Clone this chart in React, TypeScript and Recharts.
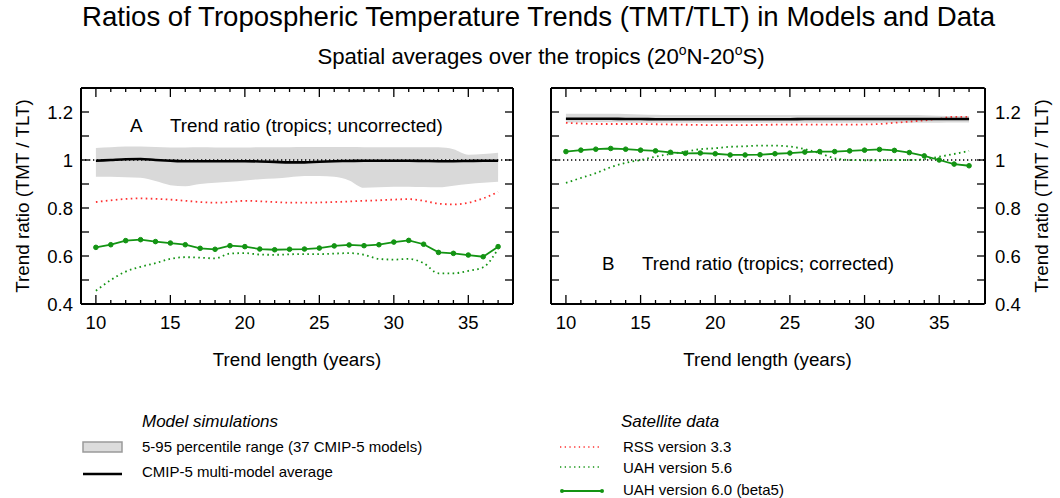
import React from "react";
import { Area, ComposedChart, Line, ReferenceLine, XAxis, YAxis } from "recharts";

// trend lengths (years)
const years = [10, 11, 12, 13, 14, 15, 16, 17, 18, 19, 20, 21, 22, 23, 24, 25, 26, 27, 28, 29, 30, 31, 32, 33, 34, 35, 36, 37];

// panel A: uncorrected
const lowA = [0.93, 0.93, 0.928, 0.926, 0.912, 0.895, 0.891, 0.9, 0.905, 0.909, 0.915, 0.92, 0.923, 0.928, 0.933, 0.933, 0.93, 0.915, 0.884, 0.886, 0.889, 0.889, 0.887, 0.886, 0.893, 0.9, 0.905, 0.909];
const highA = [1.05, 1.053, 1.056, 1.056, 1.054, 1.052, 1.052, 1.053, 1.052, 1.052, 1.052, 1.053, 1.053, 1.053, 1.054, 1.054, 1.054, 1.054, 1.053, 1.053, 1.053, 1.053, 1.053, 1.053, 1.045, 1.022, 1.025, 1.03];
const meanA = [0.997, 1.0, 1.003, 1.004, 1.0, 0.997, 0.995, 0.995, 0.995, 0.995, 0.995, 0.994, 0.992, 0.99, 0.99, 0.993, 0.995, 0.996, 0.997, 0.997, 0.997, 0.997, 0.996, 0.995, 0.995, 0.996, 0.997, 0.997];
const rssA = [0.825, 0.832, 0.838, 0.84, 0.838, 0.835, 0.83, 0.825, 0.822, 0.825, 0.83, 0.828, 0.825, 0.822, 0.822, 0.823, 0.825, 0.827, 0.83, 0.832, 0.835, 0.837, 0.83, 0.818, 0.815, 0.822, 0.84, 0.867];
const uah56A = [0.455, 0.5, 0.535, 0.555, 0.57, 0.588, 0.595, 0.593, 0.59, 0.61, 0.612, 0.606, 0.605, 0.607, 0.608, 0.608, 0.61, 0.612, 0.605, 0.588, 0.585, 0.588, 0.57, 0.528, 0.528, 0.538, 0.553, 0.63];
const uah60A = [0.636, 0.647, 0.664, 0.668, 0.66, 0.654, 0.647, 0.632, 0.628, 0.643, 0.639, 0.629, 0.626, 0.628, 0.629, 0.633, 0.642, 0.646, 0.643, 0.647, 0.658, 0.665, 0.649, 0.615, 0.611, 0.604, 0.597, 0.639];

// panel B: corrected
const lowB = [1.156, 1.156, 1.157, 1.157, 1.156, 1.155, 1.155, 1.155, 1.155, 1.155, 1.155, 1.155, 1.155, 1.155, 1.155, 1.155, 1.155, 1.155, 1.155, 1.155, 1.155, 1.155, 1.155, 1.155, 1.155, 1.155, 1.156, 1.156];
const highB = [1.193, 1.193, 1.193, 1.193, 1.192, 1.19, 1.189, 1.188, 1.188, 1.188, 1.188, 1.188, 1.188, 1.188, 1.188, 1.188, 1.188, 1.188, 1.188, 1.188, 1.188, 1.188, 1.188, 1.187, 1.186, 1.184, 1.183, 1.183];
const meanB = [1.172, 1.172, 1.172, 1.172, 1.171, 1.171, 1.17, 1.17, 1.17, 1.17, 1.17, 1.17, 1.17, 1.17, 1.17, 1.17, 1.171, 1.171, 1.171, 1.171, 1.171, 1.171, 1.171, 1.171, 1.171, 1.171, 1.171, 1.171];
const rssB = [1.155, 1.152, 1.15, 1.15, 1.15, 1.15, 1.149, 1.148, 1.147, 1.146, 1.145, 1.145, 1.145, 1.146, 1.147, 1.147, 1.147, 1.147, 1.147, 1.147, 1.148, 1.15, 1.155, 1.16, 1.165, 1.172, 1.18, 1.18];
const uah56B = [0.905, 0.925, 0.945, 0.97, 0.988, 1.0, 1.014, 1.025, 1.035, 1.045, 1.049, 1.055, 1.057, 1.06, 1.06, 1.056, 1.045, 1.028, 1.007, 1.0, 0.999, 0.999, 1.0, 1.0, 1.003, 1.014, 1.025, 1.038];
const uah60B = [1.035, 1.041, 1.045, 1.048, 1.045, 1.041, 1.038, 1.032, 1.028, 1.029, 1.026, 1.021, 1.021, 1.022, 1.026, 1.029, 1.033, 1.035, 1.035, 1.038, 1.041, 1.044, 1.04, 1.031, 1.017, 1.0, 0.983, 0.976];

const xTicks = [10, 11, 12, 13, 14, 15, 16, 17, 18, 19, 20, 21, 22, 23, 24, 25, 26, 27, 28, 29, 30, 31, 32, 33, 34, 35, 36, 37];
const yTicks = [0.4, 0.5, 0.6, 0.7, 0.8, 0.9, 1.0, 1.1, 1.2, 1.3];
const yLabelTicks = [0.4, 0.6, 0.8, 1.0, 1.2];

const FONT = "'Liberation Sans', Arial, Helvetica, sans-serif";
const RED = "#ff3030";
const GREEN = "#139413";
const BAND = "#d9d9d9";

function buildRows(low: number[], high: number[], mean: number[], rss: number[], u56: number[], u60: number[]) {
  return years.map((year, i) => ({
    year,
    band: [low[i], high[i]],
    mean: mean[i],
    rss: rss[i],
    uah56: u56[i],
    uah60: u60[i],
  }));
}

const rowsA = buildRows(lowA, highA, meanA, rssA, uah56A, uah60A);
const rowsB = buildRows(lowB, highB, meanB, rssB, uah56B, uah60B);

function XTick(props: any) {
  const { x, y, payload, side } = props;
  const v = payload.value;
  const major = v % 5 === 0;
  const len = major ? 9 : 4;
  const dir = side === "bottom" ? -1 : 1;
  return (
    <g>
      <line x1={x} x2={x} y1={y} y2={y + dir * len} stroke="#000" strokeWidth={1.3} />
      {side === "bottom" && major && (
        <text x={x} y={y + 25} textAnchor="middle" fontSize={18.5} fill="#000">
          {v}
        </text>
      )}
    </g>
  );
}

// inward tick marks only
function YTickMark(props: any) {
  const { x, y, side } = props;
  const dir = side === "left" ? 1 : -1;
  return <line x1={x} x2={x + dir * 8} y1={y} y2={y} stroke="#000" strokeWidth={1.3} />;
}

function YTitle(props: any) {
  const { viewBox, dx } = props;
  const cx = viewBox.x + dx;
  const cy = viewBox.y + viewBox.height / 2;
  return (
    <text
      x={cx}
      y={cy}
      transform={`rotate(-90, ${cx}, ${cy})`}
      textAnchor="middle"
      dominantBaseline="central"
      fontSize={18.8}
      fill="#000"
    >
      Trend ratio (TMT / TLT)
    </text>
  );
}

const axisLine = { stroke: "#000", strokeWidth: 2 };
const fmtRatio = (v: number) => (v === 1 ? "1" : v.toFixed(1));

function Panel({ rows, labelSide, left }: { rows: any[]; labelSide: "left" | "right"; left: number }) {
  // every axis is 1px wide/high; margins put the plot box where the reference has it
  const margin =
    labelSide === "left"
      ? { top: 87, right: 16, bottom: 95, left: 79 }
      : { top: 87, right: 74, bottom: 95, left: 20 };
  return (
    <div style={{ position: "absolute", left, top: 0 }}>
      <ComposedChart width={530} height={400} data={rows} margin={margin}>
        <XAxis
          xAxisId="b"
          dataKey="year"
          type="number"
          domain={[9, 38]}
          allowDataOverflow
          ticks={xTicks}
          interval={0}
          height={1}
          tickSize={0}
          tickMargin={0}
          tickLine={false}
          axisLine={axisLine}
          tick={(p: any) => <XTick {...p} side="bottom" />}
          label={{ value: "Trend length (years)", position: "bottom", offset: 48, fontSize: 18.8, fill: "#000" }}
        />
        <XAxis
          xAxisId="t"
          orientation="top"
          dataKey="year"
          type="number"
          domain={[9, 38]}
          allowDataOverflow
          ticks={xTicks}
          interval={0}
          height={1}
          tickSize={0}
          tickMargin={0}
          tickLine={false}
          axisLine={axisLine}
          tick={(p: any) => <XTick {...p} side="top" />}
        />
        <YAxis
          yAxisId="labels"
          orientation={labelSide}
          type="number"
          domain={[0.4, 1.3]}
          allowDataOverflow
          ticks={yLabelTicks}
          interval={0}
          width={1}
          tickSize={0}
          tickMargin={labelSide === "left" ? 7 : 11}
          tickLine={false}
          axisLine={false}
          tickFormatter={fmtRatio}
          tick={{ fontSize: 18.5, fill: "#000" }}
          label={{ content: (p: any) => <YTitle {...p} dx={labelSide === "left" ? -56.5 : 57} /> }}
        />
        <YAxis
          yAxisId="l"
          type="number"
          domain={[0.4, 1.3]}
          allowDataOverflow
          ticks={yTicks}
          interval={0}
          width={1}
          tickSize={0}
          tickMargin={0}
          tickLine={false}
          axisLine={axisLine}
          tick={(p: any) => <YTickMark {...p} side="left" />}
        />
        <YAxis
          yAxisId="r"
          orientation="right"
          type="number"
          domain={[0.4, 1.3]}
          allowDataOverflow
          ticks={yTicks}
          interval={0}
          width={1}
          tickSize={0}
          tickMargin={0}
          tickLine={false}
          axisLine={axisLine}
          tick={(p: any) => <YTickMark {...p} side="right" />}
        />
        <Area
          xAxisId="b"
          yAxisId="l"
          dataKey="band"
          type="monotone"
          stroke="none"
          fill={BAND}
          fillOpacity={1}
          isAnimationActive={false}
        />
        <ReferenceLine xAxisId="b" yAxisId="l" y={1} stroke="#000" strokeWidth={1.3} strokeDasharray="1.3 2.7" />
        <Line xAxisId="b" yAxisId="l" dataKey="rss" type="monotone" stroke={RED} strokeWidth={1.8} strokeDasharray="1.6 3.4" dot={false} isAnimationActive={false} />
        <Line xAxisId="b" yAxisId="l" dataKey="uah56" type="monotone" stroke={GREEN} strokeWidth={1.8} strokeDasharray="1.6 3.4" dot={false} isAnimationActive={false} />
        <Line xAxisId="b" yAxisId="l" dataKey="mean" type="monotone" stroke="#000" strokeWidth={2.6} dot={false} isAnimationActive={false} />
        <Line
          xAxisId="b"
          yAxisId="l"
          dataKey="uah60"
          type="linear"
          stroke={GREEN}
          strokeWidth={1.8}
          dot={{ r: 2.3, fill: GREEN, stroke: GREEN, strokeWidth: 1 }}
          isAnimationActive={false}
        />
      </ComposedChart>
    </div>
  );
}

export default function App() {
  return (
    <div
      style={{
        position: "absolute",
        left: 0,
        top: 0,
        width: 1060,
        height: 498,
        background: "#fff",
        fontFamily: FONT,
        overflow: "hidden",
      }}
    >
      <Panel rows={rowsA} labelSide="left" left={0} />
      <Panel rows={rowsB} labelSide="right" left={530} />
      <svg width={1060} height={498} style={{ position: "absolute", left: 0, top: 0, pointerEvents: "none" }} fontFamily={FONT}>
        <text x={538.5} y={26} textAnchor="middle" fontSize={27.6} fill="#000">
          Ratios of Tropospheric Temperature Trends (TMT/TLT) in Models and Data
        </text>
        <text x={541} y={64} textAnchor="middle" fontSize={22.2} fill="#000">
          Spatial averages over the tropics (20
          <tspan dy={-9} fontSize={14}>o</tspan>
          <tspan dy={9}>N-20</tspan>
          <tspan dy={-9} fontSize={14}>o</tspan>
          <tspan dy={9}>S)</tspan>
        </text>

        <text x={130} y={132} fontSize={18.8} fill="#000">A</text>
        <text x={170} y={132} fontSize={18.8} fill="#000">Trend ratio (tropics; uncorrected)</text>
        <text x={602} y={270} fontSize={18.8} fill="#000">B</text>
        <text x={642} y={270} fontSize={18.8} fill="#000">Trend ratio (tropics; corrected)</text>

        <text x={142} y={427} fontSize={17} fontStyle="italic" fill="#000">Model simulations</text>
        <rect x={83} y={442} width={39} height={10} fill="#dcdcdc" stroke="#9a9a9a" strokeWidth={1.5} />
        <text x={142} y={452} fontSize={15} fill="#000">5-95 percentile range (37 CMIP-5 models)</text>
        <line x1={83} x2={122} y1={474} y2={474} stroke="#000" strokeWidth={2.5} />
        <text x={142} y={477} fontSize={15} fill="#000">CMIP-5 multi-model average</text>

        <text x={621} y={427} fontSize={17} fontStyle="italic" fill="#000">Satellite data</text>
        <line x1={560} x2={600} y1={447} y2={447} stroke={RED} strokeWidth={1.5} strokeDasharray="1.3 3.4" />
        <text x={623} y={452} fontSize={15} fill="#000">RSS version 3.3</text>
        <line x1={560} x2={600} y1={467} y2={467} stroke={GREEN} strokeWidth={1.5} strokeDasharray="1.3 3.4" />
        <text x={623} y={473} fontSize={15} fill="#000">UAH version 5.6</text>
        <line x1={562} x2={602} y1={491} y2={491} stroke={GREEN} strokeWidth={1.8} />
        <circle cx={562} cy={491} r={2} fill={GREEN} />
        <circle cx={602} cy={491} r={2} fill={GREEN} />
        <text x={623} y={495} fontSize={15} fill="#000">UAH version 6.0 (beta5)</text>
      </svg>
    </div>
  );
}
